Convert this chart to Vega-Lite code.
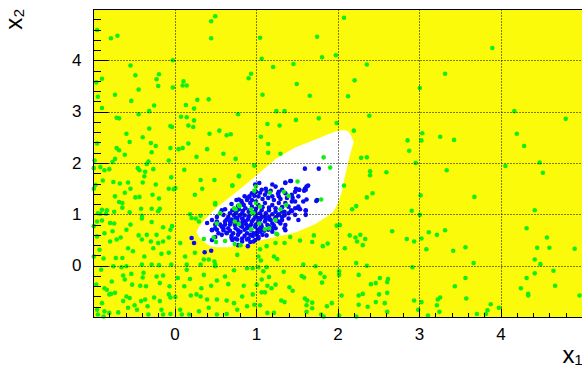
{
"$schema":"https://vega.github.io/schema/vega-lite/v6.json",
"width":489,"height":308,
"autosize":{"type":"none"},
"padding":{"left":93,"top":9,"right":0,"bottom":49},
"background":"white",
"config":{"view":{"fill":"#fafa0a","stroke":"#000","strokeWidth":1},"font":"Liberation Sans"},
"datasets":{
"w":[{"x":0.27,"y":0.66,"b":0.64},{"x":0.30,"y":0.76,"b":0.56},{"x":0.35,"y":0.86,"b":0.47},{"x":0.44,"y":1.01,"b":0.38},{"x":0.52,"y":1.14,"b":0.36},{"x":0.65,"y":1.30,"b":0.36},{"x":0.77,"y":1.45,"b":0.39},{"x":0.90,"y":1.62,"b":0.43},{"x":1.05,"y":1.82,"b":0.49},{"x":1.24,"y":2.08,"b":0.56},{"x":1.48,"y":2.30,"b":0.64},{"x":1.73,"y":2.46,"b":0.81},{"x":1.87,"y":2.55,"b":0.96},{"x":1.95,"y":2.60,"b":1.05},{"x":2.01,"y":2.63,"b":1.23},{"x":2.06,"y":2.64,"b":1.48},{"x":2.09,"y":2.64,"b":1.73},{"x":2.13,"y":2.62,"b":2.01},{"x":2.16,"y":2.55,"b":2.20},{"x":2.19,"y":2.45,"b":2.36},{"x":2.20,"y":2.40,"b":2.40}],
"g":[
{"x":-0.95,"y":4.59},{"x":-0.78,"y":4.43},{"x":-0.70,"y":4.48},{"x":0.45,"y":4.76},{"x":0.50,"y":4.86},{"x":0.45,"y":4.43},{"x":1.05,"y":4.44},{"x":-0.02,"y":4.0},{"x":-0.54,"y":3.90},{"x":-0.48,"y":3.71},{"x":-0.19,"y":3.73},{"x":-0.89,"y":3.64},{"x":-0.96,"y":3.57},{"x":-0.22,"y":3.63},{"x":-0.20,"y":3.50},{"x":-0.02,"y":3.47},{"x":-0.44,"y":3.43},{"x":0.10,"y":3.51},{"x":0.11,"y":3.59},{"x":0.15,"y":3.51},{"x":0.94,"y":3.74},{"x":0.91,"y":3.65},{"x":-0.73,"y":3.33},{"x":-0.94,"y":3.29},{"x":-0.53,"y":3.21},{"x":0.42,"y":3.24},{"x":0.28,"y":3.23},{"x":0.14,"y":3.13},{"x":0.24,"y":3.06},{"x":-0.25,"y":3.12},{"x":-0.89,"y":3.07},{"x":-0.31,"y":3.01},{"x":-0.44,"y":2.95},{"x":0.78,"y":2.95},
{"x":-0.71,"y":2.88},{"x":-0.68,"y":2.87},{"x":0.08,"y":2.90},{"x":0.15,"y":2.89},{"x":0.24,"y":2.83},{"x":-0.05,"y":2.72},{"x":-0.03,"y":2.70},{"x":0.17,"y":2.73},{"x":0.23,"y":2.70},{"x":-0.31,"y":2.67},{"x":-0.59,"y":2.57},{"x":-0.39,"y":2.50},{"x":-0.55,"y":2.41},{"x":-0.95,"y":2.38},{"x":-0.29,"y":2.39},{"x":-0.23,"y":2.33},{"x":-0.71,"y":2.29},{"x":-0.68,"y":2.25},{"x":-0.28,"y":2.21},{"x":-0.61,"y":2.16},{"x":-0.05,"y":2.29},{"x":0.05,"y":2.27},{"x":0.10,"y":2.29},{"x":0.17,"y":2.38},{"x":0.43,"y":2.57},{"x":0.55,"y":2.63},{"x":0.64,"y":2.54},{"x":0.69,"y":2.56},{"x":0.40,"y":2.27},{"x":0.60,"y":2.18},{"x":0.75,"y":2.08},{"x":0.27,"y":2.12},{"x":-0.73,"y":2.08},{"x":-0.76,"y":2.02},{"x":-0.98,"y":2.05},{"x":-0.07,"y":2.05},{"x":-0.32,"y":2.03},{"x":-0.34,"y":1.98},{"x":0.98,"y":1.95},{"x":-0.99,"y":1.90},{"x":-0.91,"y":1.92},{"x":-0.86,"y":1.86},{"x":-0.80,"y":1.88},{"x":-0.45,"y":1.90},{"x":-0.43,"y":1.86},{"x":-0.26,"y":1.88},{"x":-0.36,"y":1.83},{"x":0.12,"y":1.87},{"x":-0.37,"y":1.74},{"x":-0.04,"y":1.72},{"x":0.32,"y":1.67},{"x":0.49,"y":1.67},{"x":0.79,"y":1.74},{"x":-0.88,"y":1.66},{"x":-0.75,"y":1.63},{"x":-0.67,"y":1.60},{"x":-0.57,"y":1.62},{"x":-0.39,"y":1.62},{"x":-0.23,"y":1.58},{"x":-0.97,"y":1.57},{"x":-0.99,"y":1.50},{"x":-0.54,"y":1.50},{"x":-0.61,"y":1.42},{"x":-0.07,"y":1.50},{"x":-0.01,"y":1.49},{"x":0.01,"y":1.51},{"x":0.34,"y":1.50},{"x":0.71,"y":1.56},{"x":-0.73,"y":1.35},{"x":-0.48,"y":1.33},{"x":-0.43,"y":1.34},{"x":-0.27,"y":1.38},{"x":-0.19,"y":1.31},{"x":0.25,"y":1.38},{"x":-0.68,"y":1.24},{"x":-0.64,"y":1.22},{"x":-0.64,"y":1.13},{"x":-0.41,"y":1.11},{"x":-0.28,"y":1.11},{"x":-0.18,"y":1.11},{"x":-0.20,"y":1.06},{"x":-0.89,"y":1.09},{"x":-0.83,"y":1.08},{"x":-0.94,"y":1.02},{"x":-0.91,"y":1.01},{"x":-0.84,"y":1.01},{"x":-0.74,"y":1.05},{"x":-0.55,"y":1.04},{"x":-0.40,"y":0.97},{"x":-0.40,"y":0.92},{"x":0.19,"y":1.00},{"x":0.21,"y":0.93},{"x":0.26,"y":0.92},{"x":0.32,"y":0.97},{"x":0.50,"y":1.19},{"x":0.80,"y":1.16},{"x":0.75,"y":1.10},{"x":0.94,"y":1.10},{"x":1.00,"y":1.22},{"x":1.00,"y":1.54},{"x":0.98,"y":1.46},{"x":0.97,"y":1.02},{"x":0.56,"y":1.02},
{"x":-0.99,"y":0.77},{"x":-0.95,"y":0.86},{"x":-0.89,"y":0.88},{"x":-0.79,"y":0.83},{"x":-0.74,"y":0.82},{"x":-0.76,"y":0.67},{"x":-0.86,"y":0.63},{"x":-0.95,"y":0.57},{"x":-0.71,"y":0.51},{"x":-0.66,"y":0.55},{"x":-0.79,"y":0.47},{"x":-0.59,"y":0.70},{"x":-0.54,"y":0.80},{"x":-0.28,"y":0.85},{"x":-0.14,"y":0.75},{"x":-0.03,"y":0.77},{"x":-0.05,"y":0.70},{"x":0.30,"y":0.86},{"x":-0.34,"y":0.60},{"x":-0.29,"y":0.47},{"x":-0.40,"y":0.51},{"x":-0.44,"y":0.59},{"x":-0.22,"y":0.60},{"x":-0.20,"y":0.44},{"x":-0.14,"y":0.47},{"x":-0.07,"y":0.55},{"x":0.07,"y":0.44},{"x":-0.26,"y":0.34},{"x":-0.57,"y":0.34},{"x":-0.51,"y":0.28},{"x":-0.92,"y":0.31},{"x":-0.99,"y":0.18},{"x":-0.72,"y":0.15},{"x":-0.64,"y":0.15},{"x":-0.87,"y":0.14},{"x":-0.37,"y":0.18},{"x":-0.16,"y":0.23},{"x":-0.07,"y":0.25},{"x":0.13,"y":0.18},{"x":0.25,"y":0.25},{"x":0.36,"y":0.12},{"x":0.42,"y":0.12},{"x":0.49,"y":0.08},{"x":0.50,"y":0.02},{"x":0.77,"y":0.21},{"x":1.03,"y":0.18},{"x":-0.75,"y":-0.01},{"x":-0.90,"y":-0.08},{"x":-0.65,"y":-0.03},{"x":-0.59,"y":-0.01},{"x":-0.40,"y":0.02},{"x":-0.28,"y":0.02},{"x":-0.19,"y":0.01},{"x":-0.04,"y":0.02},{"x":0.15,"y":0.02},{"x":0.32,"y":0.02},{"x":0.50,"y":-0.01},{"x":0.89,"y":-0.05},{"x":0.96,"y":-0.05},{"x":-0.63,"y":-0.19},{"x":-0.61,"y":-0.27},{"x":-0.53,"y":-0.16},{"x":-0.38,"y":-0.14},{"x":-0.39,"y":-0.23},{"x":-0.22,"y":-0.21},{"x":-0.14,"y":-0.19},{"x":0.15,"y":-0.08},{"x":0.04,"y":-0.24},{"x":0.19,"y":-0.26},{"x":0.36,"y":-0.18},{"x":0.52,"y":-0.29},{"x":0.62,"y":-0.21},{"x":0.73,"y":-0.09},{"x":-0.77,"y":-0.31},{"x":-0.96,"y":-0.37},{"x":-0.86,"y":-0.44},{"x":-0.83,"y":-0.47},{"x":-0.52,"y":-0.37},{"x":-0.42,"y":-0.39},{"x":-0.35,"y":-0.40},{"x":-0.18,"y":-0.34},{"x":-0.06,"y":-0.40},{"x":0.12,"y":-0.40},{"x":0.33,"y":-0.44},{"x":0.45,"y":-0.39},{"x":0.66,"y":-0.36},{"x":0.85,"y":-0.39},{"x":1.01,"y":-0.37},{"x":-0.78,"y":-0.55},{"x":-0.73,"y":-0.53},{"x":-0.59,"y":-0.60},{"x":-0.55,"y":-0.63},{"x":-0.63,"y":-0.69},{"x":-0.49,"y":-0.77},{"x":-0.36,"y":-0.66},{"x":-0.41,"y":-0.69},{"x":-0.33,"y":-0.79},{"x":-0.25,"y":-0.62},{"x":-0.18,"y":-0.69},{"x":-0.07,"y":-0.56},{"x":-0.05,"y":-0.62},{"x":0.01,"y":-0.61},{"x":0.20,"y":-0.58},{"x":0.27,"y":-0.56},{"x":0.32,"y":-0.60},{"x":0.40,"y":-0.66},{"x":0.52,"y":-0.66},{"x":0.64,"y":-0.68},{"x":0.73,"y":-0.73},{"x":0.83,"y":-0.60},{"x":0.96,"y":-0.56},{"x":0.98,"y":-0.76},{"x":-0.89,"y":-0.73},{"x":-0.95,"y":-0.86},{"x":-0.86,"y":-0.89},{"x":-0.80,"y":-0.92},{"x":-0.69,"y":-0.91},{"x":-0.57,"y":-0.82},{"x":-0.46,"y":-0.86},{"x":-0.32,"y":-0.95},{"x":-0.16,"y":-0.86},{"x":-0.14,"y":-0.95},{"x":-0.05,"y":-0.94},{"x":0.07,"y":-0.86},{"x":0.09,"y":-0.95},{"x":0.18,"y":-0.95},{"x":0.30,"y":-0.89},{"x":0.42,"y":-0.82},{"x":0.52,"y":-0.95},{"x":0.64,"y":-0.94},{"x":0.77,"y":-0.86},{"x":0.89,"y":-0.79},{"x":-0.94,"y":-0.95},{"x":-0.87,"y":-0.99},{"x":-0.80,"y":-0.56},
{"x":2.08,"y":4.83},{"x":1.75,"y":4.46},{"x":1.07,"y":4.03},{"x":1.81,"y":4.06},{"x":1.98,"y":4.10},{"x":1.21,"y":3.87},{"x":1.46,"y":3.93},{"x":2.36,"y":3.92},{"x":1.50,"y":3.54},{"x":2.21,"y":3.61},{"x":1.08,"y":3.33},{"x":1.66,"y":3.31},{"x":2.13,"y":3.30},{"x":3.01,"y":3.46},{"x":1.25,"y":3.01},{"x":1.35,"y":3.01},
{"x":1.14,"y":2.76},{"x":1.29,"y":2.73},{"x":1.49,"y":2.84},{"x":1.77,"y":2.87},{"x":1.99,"y":2.78},{"x":2.39,"y":2.92},{"x":1.06,"y":2.51},{"x":1.15,"y":2.37},{"x":1.15,"y":2.20},{"x":1.30,"y":2.18},{"x":2.20,"y":2.63},{"x":3.04,"y":2.58},{"x":2.86,"y":2.44},{"x":3.03,"y":2.44},{"x":2.88,"y":2.24},{"x":2.29,"y":2.10},{"x":2.36,"y":2.11},{"x":2.96,"y":2.00},{"x":1.83,"y":2.11},{"x":1.91,"y":1.91},{"x":2.40,"y":1.84},{"x":2.40,"y":1.76},{"x":2.60,"y":1.82},{"x":1.51,"y":1.64},{"x":2.08,"y":1.56},{"x":2.43,"y":1.41},{"x":2.36,"y":1.33},{"x":3.02,"y":1.37},{"x":1.80,"y":1.29},{"x":2.23,"y":1.16},{"x":2.18,"y":1.10},{"x":2.91,"y":1.07},{"x":3.01,"y":0.99},{"x":1.40,"y":1.36},{"x":1.05,"y":1.15},
{"x":1.99,"y":0.78},{"x":2.03,"y":0.79},{"x":1.25,"y":0.62},{"x":1.42,"y":0.56},{"x":1.54,"y":0.49},{"x":1.71,"y":0.59},{"x":1.69,"y":0.46},{"x":1.35,"y":0.44},{"x":1.24,"y":0.44},{"x":1.13,"y":0.38},{"x":1.05,"y":0.32},{"x":1.82,"y":0.38},{"x":1.88,"y":0.43},{"x":2.09,"y":0.34},{"x":2.15,"y":0.59},{"x":2.22,"y":0.55},{"x":2.28,"y":0.60},{"x":2.24,"y":0.47},{"x":2.34,"y":0.52},{"x":2.31,"y":0.40},{"x":2.67,"y":0.67},{"x":2.85,"y":0.52},{"x":2.94,"y":0.47},{"x":3.03,"y":0.53},{"x":1.22,"y":0.18},{"x":1.26,"y":0.13},{"x":1.06,"y":0.10},{"x":1.58,"y":0.02},{"x":1.73,"y":-0.01},{"x":1.03,"y":-0.03},{"x":1.13,"y":-0.03},{"x":2.23,"y":0.05},{"x":2.36,"y":0.0},{"x":2.92,"y":-0.03},{"x":1.09,"y":-0.11},{"x":1.34,"y":-0.12},{"x":1.56,"y":-0.20},{"x":1.59,"y":-0.23},{"x":1.79,"y":-0.15},{"x":1.84,"y":-0.22},{"x":2.02,"y":-0.11},{"x":2.02,"y":-0.18},{"x":2.26,"y":-0.18},{"x":1.07,"y":-0.27},{"x":1.16,"y":-0.22},{"x":1.81,"y":-0.33},{"x":2.52,"y":-0.24},{"x":2.62,"y":-0.26},{"x":2.61,"y":-0.32},{"x":2.41,"y":-0.36},{"x":2.47,"y":-0.34},{"x":1.14,"y":-0.39},{"x":1.24,"y":-0.37},{"x":1.19,"y":-0.44},{"x":1.41,"y":-0.42},{"x":1.45,"y":-0.49},{"x":1.07,"y":-0.52},{"x":1.11,"y":-0.52},{"x":1.60,"y":-0.64},{"x":1.63,"y":-0.68},{"x":1.31,"y":-0.68},{"x":1.35,"y":-0.71},{"x":1.62,"y":-0.77},{"x":1.69,"y":-0.72},{"x":1.87,"y":-0.79},{"x":1.93,"y":-0.73},{"x":2.05,"y":-0.58},{"x":2.26,"y":-0.58},{"x":2.31,"y":-0.55},{"x":2.51,"y":-0.56},{"x":2.61,"y":-0.53},{"x":2.47,"y":-0.71},{"x":2.58,"y":-0.73},{"x":2.26,"y":-0.76},{"x":2.37,"y":-0.80},{"x":2.94,"y":-0.68},{"x":3.03,"y":-0.71},{"x":2.99,"y":-0.86},{"x":1.05,"y":-0.77},{"x":1.14,"y":-0.92},{"x":1.22,"y":-0.92},{"x":1.62,"y":-0.90},{"x":1.69,"y":-0.83},{"x":1.80,"y":-0.95},{"x":1.83,"y":-0.99},{"x":2.02,"y":-0.97},{"x":2.23,"y":-0.99},{"x":2.61,"y":-0.90},
{"x":3.90,"y":4.24},{"x":3.32,"y":3.74},{"x":4.17,"y":3.01},
{"x":4.80,"y":2.86},{"x":3.26,"y":2.51},{"x":3.43,"y":2.45},{"x":4.20,"y":2.57},{"x":4.29,"y":2.33},{"x":4.48,"y":2.01},{"x":4.06,"y":1.94},{"x":4.52,"y":1.81},{"x":3.34,"y":1.86},{"x":3.68,"y":1.34},{"x":4.42,"y":1.08},
{"x":4.32,"y":0.73},{"x":3.32,"y":0.69},{"x":3.12,"y":0.65},{"x":3.22,"y":0.60},{"x":4.57,"y":0.55},{"x":4.45,"y":0.35},{"x":4.60,"y":0.35},{"x":4.91,"y":0.33},{"x":3.09,"y":0.32},{"x":3.42,"y":0.29},{"x":3.57,"y":0.36},{"x":4.42,"y":0.12},{"x":4.49,"y":0.03},{"x":3.67,"y":0.05},{"x":4.65,"y":-0.10},{"x":4.42,"y":-0.15},{"x":4.32,"y":-0.24},{"x":3.57,"y":-0.24},{"x":3.44,"y":-0.40},{"x":4.25,"y":-0.44},{"x":4.34,"y":-0.55},{"x":4.34,"y":-0.58},{"x":4.67,"y":-0.39},{"x":4.97,"y":-0.58},{"x":3.58,"y":-0.64},{"x":3.26,"y":-0.62},{"x":3.23,"y":-0.66},{"x":3.22,"y":-0.77},{"x":3.25,"y":-0.90},{"x":3.11,"y":-0.97},{"x":3.71,"y":-0.94},{"x":3.82,"y":-0.94},{"x":3.84,"y":-0.87},{"x":3.88,"y":-0.75},{"x":3.98,"y":-0.82},
{"x":0.98,"y":1.95},{"x":0.79,"y":1.75},{"x":0.71,"y":1.56},{"x":0.50,"y":1.22},{"x":0.56,"y":1.02},{"x":0.73,"y":1.12},{"x":0.79,"y":1.18},{"x":0.95,"y":1.02},{"x":1.17,"y":1.42},{"x":1.34,"y":1.44},{"x":1.37,"y":1.18},{"x":1.30,"y":1.10},{"x":1.24,"y":0.89},{"x":0.79,"y":0.81},{"x":0.74,"y":0.86},{"x":1.04,"y":0.82},{"x":0.94,"y":0.71},{"x":1.11,"y":0.71},{"x":1.16,"y":0.73},{"x":0.52,"y":0.82},{"x":0.48,"y":0.55},{"x":0.62,"y":0.48},{"x":0.74,"y":0.42},{"x":1.26,"y":0.61},{"x":0.81,"y":0.40},{"x":0.36,"y":0.52},{"x":0.51,"y":0.46}
],
"b":[
{"x":0.21,"y":0.54},{"x":0.24,"y":0.44},{"x":0.37,"y":0.26},{"x":0.45,"y":0.29},{"x":0.52,"y":0.70},{"x":0.60,"y":0.73},{"x":0.68,"y":0.86},{"x":0.77,"y":0.93},{"x":0.83,"y":0.83},{"x":0.89,"y":0.73},{"x":0.93,"y":0.60},{"x":1.01,"y":0.64},{"x":0.70,"y":0.54},{"x":0.77,"y":0.51},{"x":0.83,"y":0.47},{"x":0.89,"y":0.51},{"x":0.58,"y":0.60},{"x":0.64,"y":0.64},{"x":0.40,"y":0.83},{"x":0.46,"y":0.70},{"x":0.50,"y":0.80},{"x":0.79,"y":0.64},{"x":0.97,"y":0.47},
{"x":1.60,"y":1.89},{"x":1.77,"y":1.89},{"x":1.42,"y":1.65},{"x":1.36,"y":1.62},{"x":1.62,"y":1.54},{"x":1.60,"y":1.50},{"x":1.49,"y":1.50},{"x":1.59,"y":1.46},{"x":1.53,"y":1.48},{"x":1.62,"y":1.29},{"x":1.74,"y":1.26},{"x":1.61,"y":1.08},{"x":1.52,"y":1.12},{"x":1.43,"y":1.08},{"x":1.35,"y":1.05},{"x":1.48,"y":1.25},
{"x":1.03,"y":0.93},{"x":1.11,"y":0.96},{"x":1.17,"y":0.90},{"x":1.24,"y":0.94},{"x":1.27,"y":0.98},{"x":1.05,"y":0.73},{"x":1.09,"y":0.70},{"x":1.15,"y":0.70},{"x":1.20,"y":0.73},{"x":1.01,"y":0.60},{"x":1.03,"y":0.53},{"x":1.35,"y":0.73},
{"x":1.04,"y":1.61},{"x":0.99,"y":1.58},{"x":1.20,"y":1.58},{"x":1.24,"y":1.54},{"x":1.36,"y":1.61},{"x":1.43,"y":1.65},{"x":1.64,"y":1.56},{"x":1.61,"y":1.48},{"x":1.53,"y":1.48},{"x":1.48,"y":1.44},{"x":1.32,"y":1.48},{"x":1.28,"y":1.44},{"x":1.13,"y":1.44},{"x":1.07,"y":1.48},{"x":1.00,"y":1.44},{"x":0.95,"y":1.41},{"x":0.92,"y":1.35},{"x":0.86,"y":1.35},{"x":0.79,"y":1.29},{"x":0.76,"y":1.28},{"x":0.83,"y":1.22},{"x":0.89,"y":1.28},{"x":0.95,"y":1.28},{"x":1.03,"y":1.35},{"x":1.11,"y":1.38},{"x":1.20,"y":1.35},{"x":1.28,"y":1.35},{"x":1.36,"y":1.41},{"x":1.44,"y":1.38},{"x":1.52,"y":1.35},{"x":1.58,"y":1.25},{"x":1.52,"y":1.15},{"x":1.61,"y":1.07},{"x":1.75,"y":1.28},{"x":1.54,"y":1.10},{"x":1.44,"y":1.25},{"x":1.36,"y":1.22},{"x":1.28,"y":1.22},{"x":1.20,"y":1.18},{"x":1.11,"y":1.22},{"x":1.03,"y":1.18},{"x":0.95,"y":1.15},{"x":0.87,"y":1.12},{"x":0.79,"y":1.10},{"x":0.71,"y":1.08},{"x":0.62,"y":1.10},{"x":0.58,"y":1.08},{"x":0.75,"y":1.02},{"x":0.83,"y":1.02},{"x":0.91,"y":1.05},{"x":0.99,"y":1.05},{"x":1.07,"y":1.08},{"x":1.16,"y":1.08},{"x":1.24,"y":1.05},{"x":1.32,"y":1.05},{"x":1.40,"y":1.02},{"x":1.48,"y":0.99},{"x":1.40,"y":0.92},{"x":1.32,"y":0.95},{"x":1.24,"y":0.92},{"x":1.16,"y":0.95},{"x":1.07,"y":0.95},{"x":0.99,"y":0.95},{"x":0.91,"y":0.95},{"x":0.83,"y":0.92},{"x":0.75,"y":0.92},{"x":0.66,"y":0.95},{"x":0.60,"y":0.99},{"x":0.52,"y":0.95},{"x":0.46,"y":0.89},{"x":0.52,"y":0.86},{"x":0.62,"y":0.86},{"x":0.71,"y":0.86},{"x":0.79,"y":0.82},{"x":0.87,"y":0.86},{"x":0.95,"y":0.86},{"x":1.03,"y":0.86},{"x":1.11,"y":0.86},{"x":1.20,"y":0.82},{"x":1.28,"y":0.86},{"x":1.36,"y":0.79},{"x":1.24,"y":0.73},{"x":1.16,"y":0.76},{"x":1.07,"y":0.76},{"x":0.99,"y":0.76},{"x":0.91,"y":0.76},{"x":0.83,"y":0.76},{"x":0.75,"y":0.73},{"x":0.66,"y":0.73},{"x":0.58,"y":0.76},{"x":0.50,"y":0.73},{"x":0.46,"y":0.69},{"x":0.54,"y":0.63},{"x":0.64,"y":0.63},{"x":0.72,"y":0.63},{"x":0.81,"y":0.66},{"x":0.89,"y":0.63},{"x":0.97,"y":0.63},{"x":1.05,"y":0.66},{"x":1.03,"y":0.56},{"x":0.91,"y":0.53},{"x":0.83,"y":0.53},{"x":0.75,"y":0.53},{"x":0.71,"y":0.50},{"x":0.93,"y":0.46},{"x":0.99,"y":0.50},{"x":1.13,"y":0.59},{"x":1.36,"y":0.69},{"x":1.52,"y":0.89},{"x":1.61,"y":0.99},{"x":0.46,"y":0.50},{"x":0.50,"y":0.56},
{"x":0.70,"y":1.20},{"x":0.78,"y":1.16},{"x":0.85,"y":1.18},{"x":0.93,"y":1.22},{"x":1.00,"y":1.25},{"x":1.08,"y":1.30},{"x":1.15,"y":1.32},{"x":1.22,"y":1.28},{"x":1.30,"y":1.30},{"x":1.38,"y":1.32},{"x":1.45,"y":1.32},{"x":1.12,"y":1.50},{"x":1.18,"y":1.46},{"x":1.27,"y":1.40},{"x":1.05,"y":1.42},{"x":0.98,"y":1.36},{"x":0.90,"y":1.32},{"x":0.82,"y":1.26},{"x":0.68,"y":1.02},{"x":0.73,"y":0.98},{"x":0.80,"y":0.98},{"x":0.86,"y":0.98},{"x":0.93,"y":1.00},{"x":1.00,"y":1.00},{"x":1.05,"y":1.02},{"x":1.12,"y":1.02},{"x":1.20,"y":1.00},{"x":1.28,"y":1.00},{"x":1.35,"y":0.98},{"x":1.44,"y":1.06},{"x":1.48,"y":1.12},{"x":1.40,"y":1.15},{"x":1.32,"y":1.14},{"x":1.24,"y":1.12},{"x":1.16,"y":1.13},{"x":1.08,"y":1.14},{"x":1.00,"y":1.11},{"x":0.92,"y":1.08},{"x":0.84,"y":1.07},{"x":0.76,"y":1.06},{"x":0.64,"y":0.90},{"x":0.70,"y":0.90},{"x":0.77,"y":0.88},{"x":0.84,"y":0.89},{"x":0.90,"y":0.90},{"x":0.97,"y":0.90},{"x":1.05,"y":0.90},{"x":1.12,"y":0.90},{"x":1.18,"y":0.89},{"x":1.25,"y":0.88},{"x":1.32,"y":0.89},{"x":0.56,"y":0.80},{"x":0.62,"y":0.80},{"x":0.68,"y":0.80},{"x":0.74,"y":0.79},{"x":0.81,"y":0.78},{"x":0.88,"y":0.80},{"x":0.94,"y":0.80},{"x":1.00,"y":0.80},{"x":1.06,"y":0.80},{"x":1.14,"y":0.79},{"x":1.22,"y":0.78},{"x":1.30,"y":0.82},{"x":0.60,"y":0.69},{"x":0.68,"y":0.68},{"x":0.78,"y":0.69},{"x":0.86,"y":0.70},{"x":0.94,"y":0.70},{"x":1.02,"y":0.70},{"x":1.10,"y":0.68},{"x":1.20,"y":0.66},{"x":0.70,"y":0.58},{"x":0.78,"y":0.60},{"x":0.86,"y":0.58},{"x":0.96,"y":0.58},{"x":1.08,"y":0.60},{"x":0.90,"y":0.38},{"x":0.78,"y":0.40}
]
},
"encoding":{
"x":{"field":"x","type":"quantitative","scale":{"domain":[-1,5],"nice":false,"zero":false},
 "axis":{"values":[-1,-0.8,-0.6,-0.4,-0.2,0,0.2,0.4,0.6,0.8,1,1.2,1.4,1.6,1.8,2,2.2,2.4,2.6,2.8,3,3.2,3.4,3.6,3.8,4,4.2,4.4,4.6,4.8,5],
 "labelExpr":"abs(datum.value-round(datum.value))<0.001 && datum.value>-0.5 && datum.value<4.5 ? format(datum.value,'d') : ''",
 "labelFont":"Liberation Sans","labelFontSize":17,"labelColor":"#000","labelPadding":18,"labelOverlap":false,"labelFlush":false,
 "tickSize":{"condition":{"test":"abs(datum.value-round(datum.value))<0.001","value":-9},"value":-4.5},
 "tickColor":"#000","tickWidth":1,
 "grid":true,"gridColor":"#000","gridDash":[1,2],"gridWidth":1,
 "gridOpacity":{"condition":{"test":"abs(datum.value-round(datum.value))<0.001","value":1},"value":0},
 "domainColor":"#000","domainWidth":1,
 "title":"x₁","titleFont":"Liberation Sans","titleFontSize":24,"titleFontWeight":"normal","titleColor":"#000","titleAnchor":"end","titleAlign":"right","titleX":489,"titleY":45,"titleBaseline":"alphabetic","zindex":1}},
"y":{"field":"y","type":"quantitative","scale":{"domain":[-1,5],"nice":false,"zero":false},
 "axis":{"values":[-1,-0.8,-0.6,-0.4,-0.2,0,0.2,0.4,0.6,0.8,1,1.2,1.4,1.6,1.8,2,2.2,2.4,2.6,2.8,3,3.2,3.4,3.6,3.8,4,4.2,4.4,4.6,4.8,5],
 "labelExpr":"abs(datum.value-round(datum.value))<0.001 && datum.value>-0.5 && datum.value<4.5 ? format(datum.value,'d') : ''",
 "labelFont":"Liberation Sans","labelFontSize":17,"labelColor":"#000","labelPadding":27,"labelOverlap":false,"labelFlush":false,
 "tickSize":{"condition":{"test":"abs(datum.value-round(datum.value))<0.001","value":-15},"value":-7.5},
 "tickColor":"#000","tickWidth":1,
 "grid":true,"gridColor":"#000","gridDash":[1,2],"gridWidth":1,
 "gridOpacity":{"condition":{"test":"abs(datum.value-round(datum.value))<0.001","value":1},"value":0},
 "domainColor":"#000","domainWidth":1,
 "title":"x₂","titleFont":"Liberation Sans","titleFontSize":24,"titleFontWeight":"normal","titleColor":"#000","titleAngle":-90,"titleAlign":"right","titleX":-72,"titleY":-1,"titleBaseline":"alphabetic","zindex":1}}
},
"layer":[
{"data":{"name":"w"},"mark":{"type":"area","fill":"#ffffff","strokeWidth":0,"interpolate":"linear","opacity":1},"encoding":{"y2":{"field":"b"}}},
{"data":{"name":"b"},"mark":{"type":"circle","size":21,"color":"#0a0af5","opacity":1}},
{"data":{"name":"g"},"mark":{"type":"circle","size":21,"color":"#10f010","opacity":1}}
]
}
